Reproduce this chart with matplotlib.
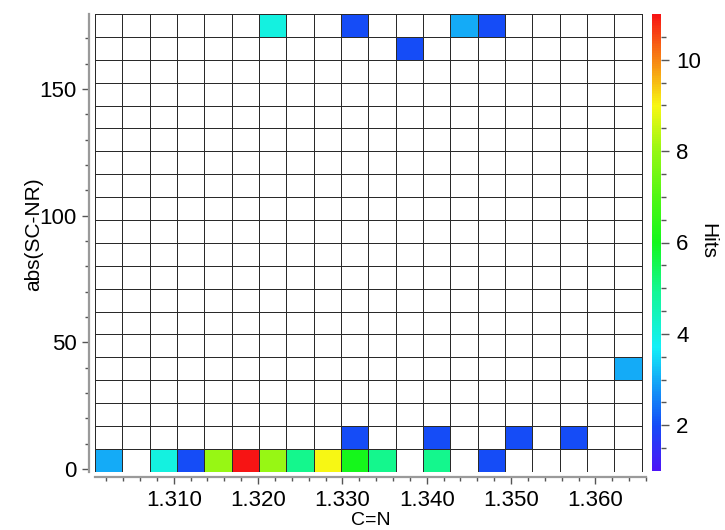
"""2D hit map of abs(SC-NR) against C=N, coloured by number of hits."""

import numpy as np
import matplotlib
matplotlib.use("Agg")
import matplotlib.pyplot as plt
from matplotlib.colors import LinearSegmentedColormap, hsv_to_rgb

plt.rcParams["font.family"] = ["Liberation Sans", "DejaVu Sans"]

# histogram binning (20 x 20)
x_range = (1.30067, 1.36549)
y_range = (-1.0, 179.6)
n_bins = 20

# occupied cells: column index, row index (from bottom), hit count
hit_col = [0, 2, 3, 4, 5, 6, 7, 8, 9, 10, 12, 14,
           9, 12, 15, 17,
           19,
           11,
           6, 9, 13, 14]
hit_row = [0, 0, 0, 0, 0, 0, 0, 0, 0, 0, 0, 0,
           1, 1, 1, 1,
           4,
           18,
           19, 19, 19, 19]
hit_count = [3, 4, 2, 8, 11, 8, 5, 9, 6, 5, 5, 2,
             2, 2, 2, 2,
             3,
             2,
             4, 2, 3, 2]

x_ticks = [1.310, 1.320, 1.330, 1.340, 1.350, 1.360]
y_ticks = [0, 50, 100, 150]
c_ticks = [2, 4, 6, 8, 10]
c_range = (1, 11)


def rainbow():
    # hue stops, value 1 -> 11
    vals = [1, 2, 3, 3.7, 5, 6, 7, 8, 9, 10, 11]
    hues = [255, 225, 200, 182, 152, 122, 104, 86, 60, 30, 0]
    stops = []
    for v, h in zip(vals, hues):
        pos = (v - c_range[0]) / (c_range[1] - c_range[0])
        stops.append((pos, hsv_to_rgb([h / 360.0, 0.92, 0.97])))
    cmap = LinearSegmentedColormap.from_list("igor_rainbow", stops)
    cmap.set_bad("white")
    return cmap


def main():
    grid = np.full((n_bins, n_bins), np.nan)
    for c, r, n in zip(hit_col, hit_row, hit_count):
        grid[r, c] = n
    xe = np.linspace(*x_range, n_bins + 1)
    ye = np.linspace(*y_range, n_bins + 1)

    fig = plt.figure(figsize=(7.25, 5.3), dpi=100)
    ax = fig.add_axes([95 / 725, 58.3 / 530, 551 / 725, 457.7 / 530])
    mesh = ax.pcolormesh(xe, ye, np.ma.masked_invalid(grid), cmap=rainbow(),
                         vmin=c_range[0], vmax=c_range[1],
                         edgecolors="#2a2a2a", linewidth=0.6)
    ax.set_xlim(*x_range)
    ax.set_ylim(*y_range)

    ax.set_xticks(x_ticks)
    ax.set_xticklabels([f"{t:.3f}" for t in x_ticks])
    ax.set_xticks(np.arange(1.302, 1.366, 0.002), minor=True)
    ax.set_yticks(y_ticks)
    ax.set_yticks(np.arange(0, 180, 10), minor=True)

    for s in ("top", "right"):
        ax.spines[s].set_visible(False)
    for s in ("left", "bottom"):
        ax.spines[s].set_position(("outward", 4))
        ax.spines[s].set_color("#9a9a9a")
        ax.spines[s].set_linewidth(1.6)
    ax.tick_params(which="both", direction="out", color="#555555", width=1.0,
                   labelsize=16, pad=4)
    ax.tick_params(which="major", length=5)
    ax.tick_params(which="minor", length=3)

    ax.set_xlabel("C=N", fontsize=14, labelpad=1)
    ax.set_ylabel("abs(SC-NR)", fontsize=15)
    ax.yaxis.set_label_coords(-0.095, 0.52)

    cax = fig.add_axes([652 / 725, 59 / 530, 9 / 725, 457 / 530])
    cb = fig.colorbar(mesh, cax=cax)
    cb.outline.set_visible(False)
    cb.set_ticks(c_ticks)
    cb.set_ticks(np.arange(1.5, 11.0, 0.5), minor=True)
    cax.tick_params(which="both", direction="out", color="#555555", width=1.0,
                    labelsize=16, pad=5)
    cax.tick_params(which="major", length=6)
    cax.tick_params(which="minor", length=3.5)
    fig.text(708 / 725, 0.545, "Hits", fontsize=15, rotation=270,
             ha="center", va="center")

    fig.savefig("out.png", dpi=100)


if __name__ == "__main__":
    main()
